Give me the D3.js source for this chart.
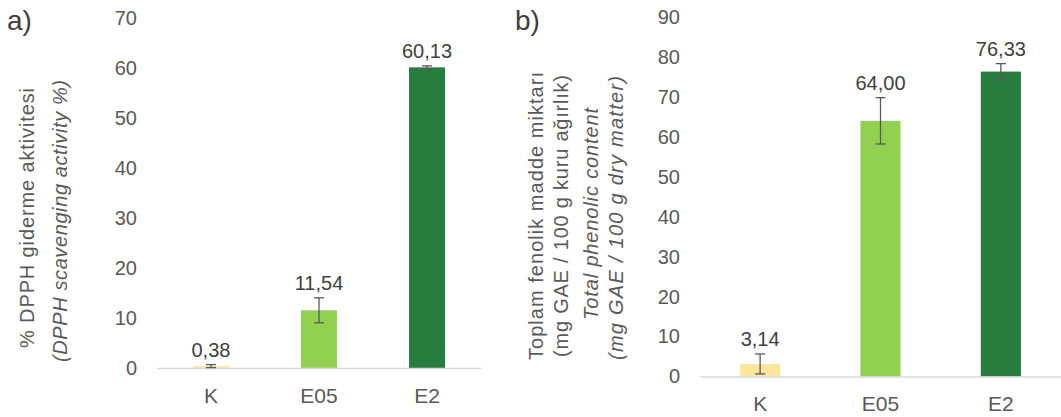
<!DOCTYPE html>
<meta charset="utf-8">
<style>
body { margin: 0; background: #fff; }
text { font-family: "Liberation Sans", Arial, sans-serif; }
.tick text { fill: #595959; }
.vlabel { fill: #404040; font-size: 20px; }
.title { fill: #595959; font-size: 20px; }
.panel { fill: #404040; font-size: 28px; }
</style>
<svg width="1061" height="417"></svg>
<script src="https://cdnjs.cloudflare.com/ajax/libs/d3/7.8.5/d3.min.js"></script>
<script>

var categories = ["K", "E05", "E2"];
var barColors = ["#FFE699", "#92D050", "#277D3E"];

// a) DPPH
var dpphValues = [0.38, 11.54, 60.13];
var dpphErrors = [0.3, 2.5, 0.3];
var dpphTicks = [0, 10, 20, 30, 40, 50, 60, 70];

// b) total phenolic
var phenolValues = [3.14, 64.00, 76.33];
var phenolErrors = [2.5, 5.8, 2.0];
var phenolTicks = [0, 10, 20, 30, 40, 50, 60, 70, 80, 90];

var svg = d3.select("svg");

function fmt(v) { return d3.format(".2f")(v).replace(".", ","); }

function drawPanel(opt) {
  var x = d3.scaleBand()
      .domain(categories)
      .range([opt.left, opt.right])
      .paddingInner(0.667)
      .paddingOuter(0.333);

  var y = d3.scaleLinear()
      .domain([0, opt.max])
      .range([opt.bottom, opt.top]);

  var g = svg.append("g");

  // y tick labels, no axis line
  var yAxis = g.append("g")
      .attr("transform", "translate(" + (opt.left - 20) + ",0)")
      .call(d3.axisLeft(y).tickValues(opt.ticks).tickSize(0).tickPadding(0));
  yAxis.select(".domain").remove();
  yAxis.selectAll("text").style("font-size", "20px");

  // bars
  g.append("g")
    .selectAll("rect")
    .data(opt.values)
    .enter().append("rect")
      .attr("x", function(d, i) { return x(categories[i]); })
      .attr("y", function(d) { return y(d); })
      .attr("width", x.bandwidth())
      .attr("height", function(d) { return y(0) - y(d); })
      .attr("fill", function(d, i) { return barColors[i]; });

  // baseline + category labels
  var xAxis = g.append("g")
      .attr("transform", "translate(0," + y(0) + ")")
      .call(d3.axisBottom(x).tickSize(0).tickPadding(20));
  xAxis.select(".domain").attr("stroke", "#D9D9D9").attr("stroke-width", 1.3);
  xAxis.selectAll("text").style("font-size", "21px");

  // error bars
  var eb = g.append("g")
      .attr("stroke", "#595959")
      .attr("stroke-width", 1.3)
      .selectAll("g")
      .data(opt.values)
      .enter().append("g");

  eb.append("line")
      .attr("x1", function(d, i) { return x(categories[i]) + x.bandwidth() / 2; })
      .attr("x2", function(d, i) { return x(categories[i]) + x.bandwidth() / 2; })
      .attr("y1", function(d, i) { return y(d + opt.errors[i]); })
      .attr("y2", function(d, i) { return y(d - opt.errors[i]); });
  eb.selectAll("line.cap")
      .data(function(d, i) { return [[i, d + opt.errors[i]], [i, d - opt.errors[i]]]; })
      .enter().append("line")
      .attr("class", "cap")
      .attr("x1", function(d) { return x(categories[d[0]]) + x.bandwidth() / 2 - 5; })
      .attr("x2", function(d) { return x(categories[d[0]]) + x.bandwidth() / 2 + 5; })
      .attr("y1", function(d) { return y(d[1]); })
      .attr("y2", function(d) { return y(d[1]); });

  // value labels
  g.append("g")
    .selectAll("text")
    .data(opt.values)
    .enter().append("text")
      .attr("class", "vlabel")
      .attr("text-anchor", "middle")
      .attr("x", function(d, i) { return x(categories[i]) + x.bandwidth() / 2; })
      .attr("y", function(d, i) { return y(d + opt.errors[i]) - 8; })
      .text(function(d) { return fmt(d); });

  // y titles (rotated)
  opt.titles.forEach(function(t) {
    g.append("text")
      .attr("class", "title")
      .attr("text-anchor", "middle")
      .attr("transform", "translate(" + t.x + "," + t.y + ") rotate(-90)")
      .attr("textLength", t.len)
      .attr("lengthAdjust", "spacing")
      .style("font-style", t.italic ? "italic" : "normal")
      .text(t.text);
  });

  svg.append("text")
      .attr("class", "panel")
      .attr("x", opt.labelX)
      .attr("y", 30)
      .text(opt.label);
}

drawPanel({
  left: 157, right: 481, top: 18, bottom: 368, max: 70,
  values: dpphValues, errors: dpphErrors, ticks: dpphTicks,
  label: "a)", labelX: 7,
  titles: [
    {text: "% DPPH giderme aktivitesi", x: 34, y: 218, len: 260},
    {text: "(DPPH scavenging activity %)", x: 67, y: 221, len: 282, italic: true}
  ]
});

drawPanel({
  left: 700, right: 1061, top: 17, bottom: 376.5, max: 90,
  values: phenolValues, errors: phenolErrors, ticks: phenolTicks,
  label: "b)", labelX: 515,
  titles: [
    {text: "Toplam fenolik madde miktarı", x: 543, y: 216, len: 288},
    {text: "(mg GAE / 100 g kuru ağırlık)", x: 568, y: 216, len: 282},
    {text: "Total phenolic content", x: 598, y: 214, len: 212, italic: true},
    {text: "(mg GAE / 100 g dry matter)", x: 623, y: 218, len: 284, italic: true}
  ]
});

</script>
